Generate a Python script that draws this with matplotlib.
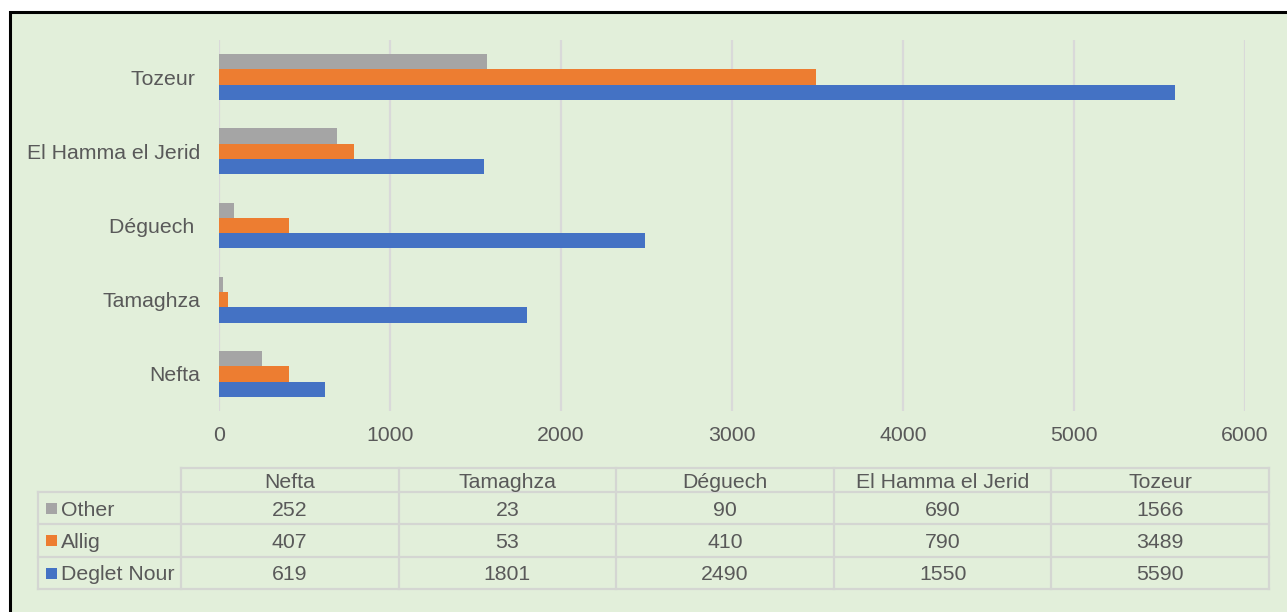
import matplotlib
matplotlib.use("Agg")
import matplotlib.pyplot as plt
from matplotlib.patches import Rectangle
from matplotlib.lines import Line2D
import numpy as np

categories = ["Nefta", "Tamaghza", "Déguech ", "El Hamma el Jerid", "Tozeur "]
table_headers = ["Nefta", "Tamaghza", "Déguech", "El Hamma el Jerid", "Tozeur"]
series_names = ["Other", "Allig", "Deglet Nour"]
other = [252, 23, 90, 690, 1566]
allig = [407, 53, 410, 790, 3489]
deglet = [619, 1801, 2490, 1550, 5590]
xticks = [0, 1000, 2000, 3000, 4000, 5000, 6000]

colors = {"Other": "#A5A5A5", "Allig": "#ED7D31", "Deglet Nour": "#4472C4"}
values = {"Other": other, "Allig": allig, "Deglet Nour": deglet}
bg = "#E2EFDA"
txt = "#595959"
grid = "#D9D9D9"

plt.rcParams['font.family'] = ['Liberation Sans', 'DejaVu Sans']
FS = 15.3

W, H = 1287, 612
fig = plt.figure(figsize=(W / 100, H / 100), dpi=100)
fig.patch.set_facecolor("white")

# overlay axes in pixel coords
ov = fig.add_axes([0, 0, 1, 1], zorder=0)
ov.set_xlim(0, W)
ov.set_ylim(H, 0)
ov.axis("off")
ov.add_patch(Rectangle((10, 12), W + 20, H + 20, facecolor=bg, edgecolor="black", linewidth=2.2))

# bar chart axes
x0, x1, y0, y1 = 219, 1245, 40, 411
ax = fig.add_axes([x0 / W, 1 - y1 / H, (x1 - x0) / W, (y1 - y0) / H], zorder=1)
ax.set_facecolor("none")
y = np.arange(len(categories))
h = 0.205
offsets = {"Deglet Nour": -h, "Allig": 0.0, "Other": h}
for s in ["Deglet Nour", "Allig", "Other"]:
    ax.barh(y + offsets[s], values[s], height=h, color=colors[s], zorder=3)
ax.set_xlim(0, 6000)
ax.set_ylim(-0.5, len(categories) - 0.5)
ax.set_xticks(xticks)
ax.set_xticklabels([str(v) for v in xticks])
ax.set_yticks(y)
ax.set_yticklabels(categories)
ax.tick_params(axis="both", length=0, labelsize=FS, labelcolor=txt)
ax.tick_params(axis="x", pad=11)
ax.tick_params(axis="y", pad=13.5)
ax.grid(axis="x", color=grid, linewidth=1.6, zorder=0)
ax.set_axisbelow(True)
for sp in ax.spines.values():
    sp.set_visible(False)

# data table
lc = "#D4D6D2"
lw = 1.6
col_x = [181 + i * 217.6 for i in range(6)]
row_y = [468, 492, 524, 557, 589]
left_x = 38
# horizontal lines
ov.add_line(Line2D([col_x[0], col_x[-1]], [row_y[0], row_y[0]], color=lc, lw=lw))
for ry in row_y[1:]:
    ov.add_line(Line2D([left_x, col_x[-1]], [ry, ry], color=lc, lw=lw))
# vertical lines
ov.add_line(Line2D([left_x, left_x], [row_y[1], row_y[-1]], color=lc, lw=lw))
for cx in col_x:
    ov.add_line(Line2D([cx, cx], [row_y[0], row_y[-1]], color=lc, lw=lw))

for i, hname in enumerate(table_headers):
    cx = (col_x[i] + col_x[i + 1]) / 2
    ov.text(cx, (row_y[0] + row_y[1]) / 2 + 0.5, hname, ha="center", va="center_baseline",
            fontsize=FS, color=txt)
for r, s in enumerate(series_names):
    cy = (row_y[r + 1] + row_y[r + 2]) / 2
    ov.add_patch(Rectangle((46, cy - 5.5), 11, 11, facecolor=colors[s], edgecolor="none"))
    ov.text(61, cy, s, ha="left", va="center_baseline", fontsize=FS, color=txt)
    for i, v in enumerate(values[s]):
        cx = (col_x[i] + col_x[i + 1]) / 2
        ov.text(cx, cy, str(v), ha="center", va="center_baseline", fontsize=FS, color=txt)

fig.savefig("out.png", dpi=100, facecolor=fig.get_facecolor())
